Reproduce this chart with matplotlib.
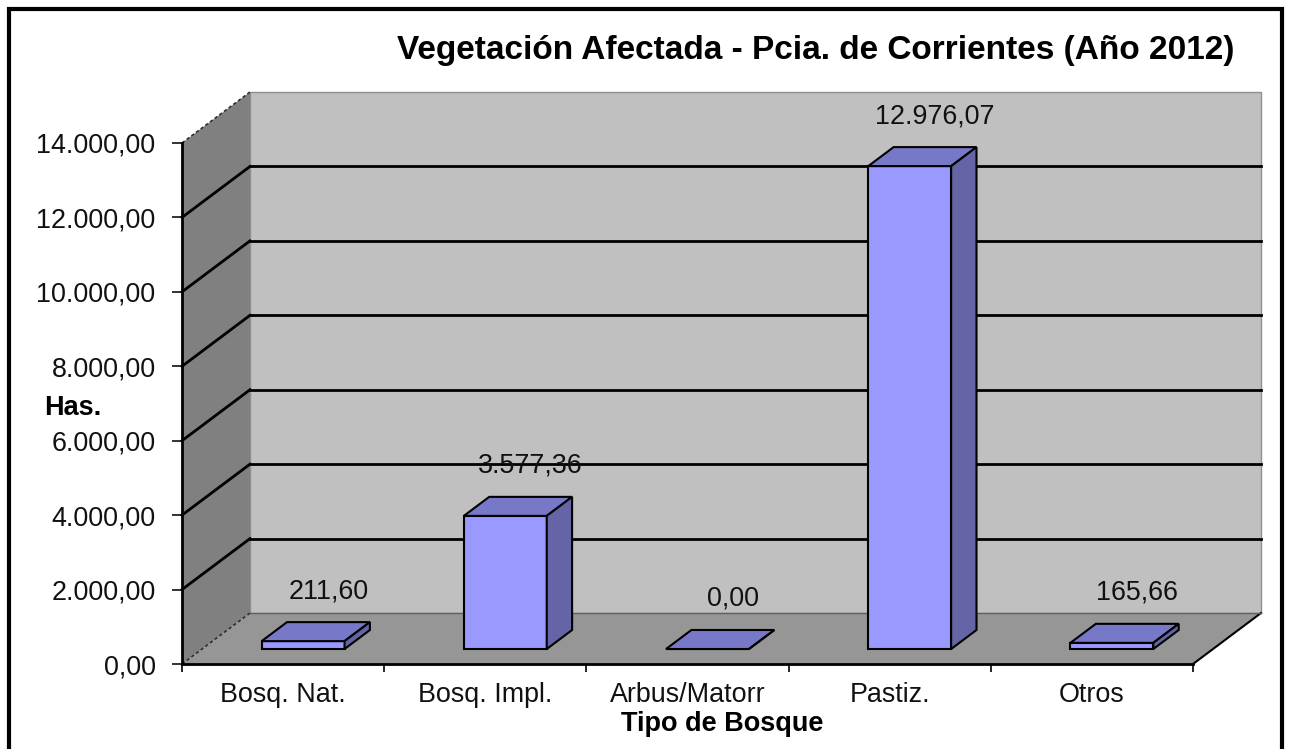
import matplotlib.pyplot as plt
from matplotlib.patches import Polygon, Rectangle
from matplotlib.ticker import FuncFormatter, FixedLocator

categorias = ["Bosq. Nat.", "Bosq. Impl.", "Arbus/Matorr", "Pastiz.", "Otros"]
hectareas = [211.60, 3577.36, 0.00, 12976.07, 165.66]
y_ticks = [0, 2000, 4000, 6000, 8000, 10000, 12000, 14000]

plt.rcParams['font.family'] = ['Liberation Sans', 'DejaVu Sans']


def fmt_es(v, pos=None):
    # 12976.07 -> "12.976,07"
    s = f"{v:,.2f}"
    return s.replace(",", "X").replace(".", ",").replace("X", ".")


# perspectiva: desplazamiento de la pared del fondo (en unidades de datos)
DX = 68 / 202.2
DY = 1370.0
D0, D1 = 0.294, 0.667      # profundidad frontal / trasera de las barras
ANCHO = 0.41

C_FRENTE = "#9999ff"
C_TAPA = "#7878c8"
C_LADO = "#6464a6"
FS = 19.4


def p(x, y, d):
    return (x + d * DX, y + d * DY)


fig = plt.figure(figsize=(12.9, 7.49), dpi=100)
ax = fig.add_axes([182 / 1290, 85 / 749, 1011 / 1290, 521 / 749])
ax.set_xlim(-0.5, len(categorias) - 0.5)
ax.set_ylim(0, 14000)
ax.patch.set_visible(False)

x0, x1 = -0.5, len(categorias) - 0.5
ymax = y_ticks[-1]

# pared del fondo
ax.add_patch(Polygon([p(x0, 0, 1), p(x1, 0, 1), p(x1, ymax, 1), p(x0, ymax, 1)],
                     closed=True, facecolor="#c0c0c0", edgecolor="#909090",
                     lw=1, clip_on=False, zorder=1))
# piso
ax.add_patch(Polygon([p(x0, 0, 0), p(x1, 0, 0), p(x1, 0, 1), p(x0, 0, 1)],
                     closed=True, facecolor="#969696", edgecolor="none",
                     clip_on=False, zorder=2))
# pared lateral
ax.add_patch(Polygon([p(x0, 0, 0), p(x0, ymax, 0), p(x0, ymax, 1), p(x0, 0, 1)],
                     closed=True, facecolor="#808080", edgecolor="none",
                     clip_on=False, zorder=2))

# lineas de division
for v in y_ticks[1:-1]:
    xa, ya = p(x0, v, 1)
    xb, yb = p(x1, v, 1)
    ax.plot([xa, xb], [ya, yb], color="black", lw=2, clip_on=False, zorder=3)
    xc, yc = p(x0, v, 0)
    ax.plot([xc, xa], [yc, ya], color="black", lw=2, clip_on=False, zorder=3)

# bordes punteados y del piso
for v in [0, ymax]:
    xa, ya = p(x0, v, 0)
    xb, yb = p(x0, v, 1)
    ax.plot([xa, xb], [ya, yb], color="#303030", lw=1.2, ls=(0, (2, 1.5)),
            clip_on=False, zorder=3)
xa, ya = p(x1, 0, 0)
xb, yb = p(x1, 0, 1)
ax.plot([xa, xb], [ya, yb], color="black", lw=1.5, clip_on=False, zorder=3)
xa, ya = p(x0, 0, 1)
xb, yb = p(x1, 0, 1)
ax.plot([xa, xb], [ya, yb], color="#606060", lw=1, clip_on=False, zorder=3)

# barras 3D
for i, h in enumerate(hectareas):
    l, r = i - ANCHO / 2, i + ANCHO / 2
    z = 4 + i
    ax.add_patch(Polygon([p(l, 0, D0), p(r, 0, D0), p(r, h, D0), p(l, h, D0)],
                         closed=True, facecolor=C_FRENTE, edgecolor="black",
                         lw=1.5, clip_on=False, zorder=z))
    ax.add_patch(Polygon([p(l, h, D0), p(r, h, D0), p(r, h, D1), p(l, h, D1)],
                         closed=True, facecolor=C_TAPA, edgecolor="black",
                         lw=1.5, clip_on=False, zorder=z))
    ax.add_patch(Polygon([p(r, 0, D0), p(r, 0, D1), p(r, h, D1), p(r, h, D0)],
                         closed=True, facecolor=C_LADO, edgecolor="black",
                         lw=1.5, clip_on=False, zorder=z))
    ax.annotate(fmt_es(h), xy=p(i, h, D1), xytext=(0, 31),
                textcoords="offset pixels", ha="center", va="center",
                fontsize=FS, color="#111111", zorder=20)

# ejes
for s in ["top", "right"]:
    ax.spines[s].set_visible(False)
ax.spines["left"].set_linewidth(2)
ax.spines["bottom"].set_linewidth(2)
ax.spines["left"].set_zorder(10)
ax.spines["bottom"].set_zorder(10)

ax.yaxis.set_major_locator(FixedLocator(y_ticks))
ax.yaxis.set_major_formatter(FuncFormatter(fmt_es))
ax.tick_params(axis="y", direction="out", length=7, width=1.2, pad=12,
               labelsize=FS, colors="#111111")

ax.set_xticks(range(len(categorias)))
ax.set_xticklabels(categorias)
ax.set_xticks([i - 0.5 for i in range(len(categorias) + 1)], minor=True)
ax.tick_params(axis="x", which="major", length=0, pad=13, labelsize=FS,
               colors="#111111")
ax.tick_params(axis="x", which="minor", direction="out", length=6, width=1.2)

fig.text(816 / 1290, 1 - 50 / 749,
         "Vegetación Afectada - Pcia. de Corrientes (Año 2012)",
         ha="center", va="center", fontsize=24, fontweight="bold")
fig.text(44 / 1290, 1 - 408 / 749, "Has.", ha="left", va="center",
         fontsize=19.5, fontweight="bold")
fig.text(722 / 1290, 1 - 724 / 749, "Tipo de Bosque", ha="center",
         va="center", fontsize=19.5, fontweight="bold")

# marco exterior
fig.add_artist(Rectangle((9 / 1290, -0.02), 1273 / 1290, 1.02 - 9 / 749,
                         transform=fig.transFigure, fill=False,
                         edgecolor="black", lw=3))

fig.savefig("out.png", dpi=100)
